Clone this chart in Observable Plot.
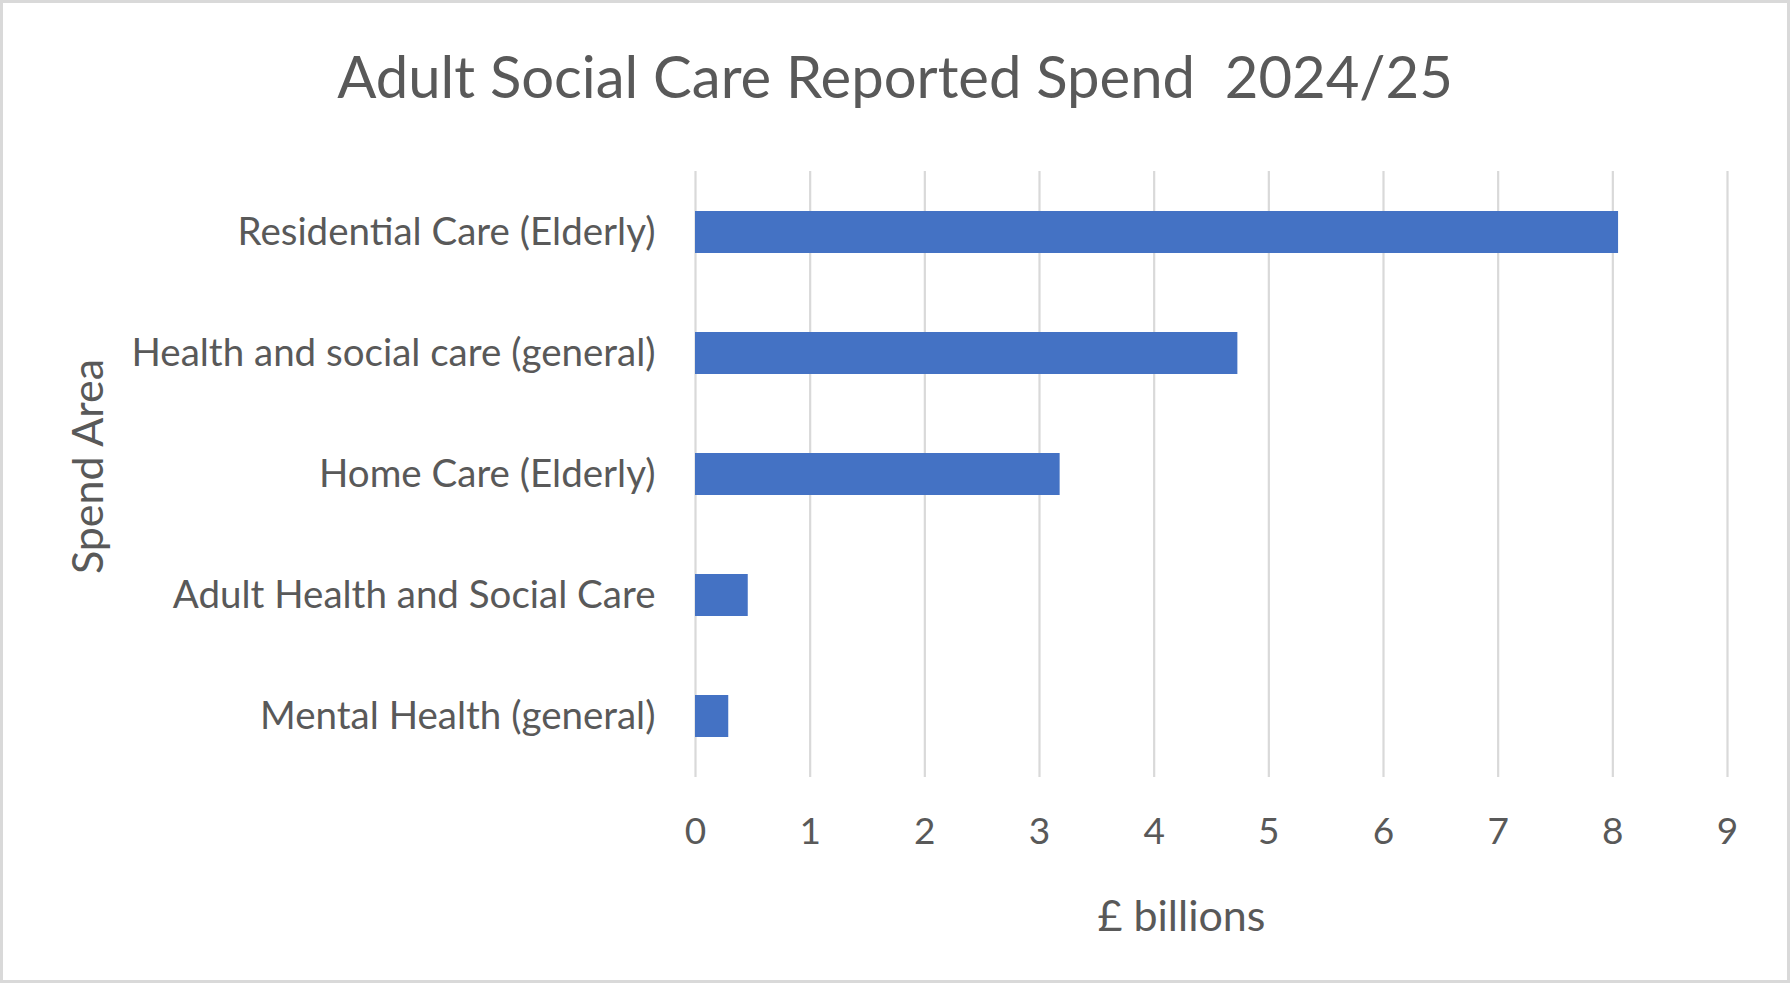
<!DOCTYPE html>
<html>
<head>
<meta charset="utf-8">
<script src="https://cdn.jsdelivr.net/npm/d3@7"></script>
<script src="https://cdn.jsdelivr.net/npm/@observablehq/plot@0.6"></script>
<style>
  html, body { margin: 0; padding: 0; background: #fff; }
  #chart { position: relative; width: 1790px; height: 983px; overflow: hidden; background: #fff; font-family: Lato, "Open Sans", sans-serif; color: #595959; }
  #frame { position: absolute; left: 0; top: 0; width: 1790px; height: 983px; border: 3px solid #d9d9d9; box-sizing: border-box; pointer-events: none; }
  #title { position: absolute; left: 0; top: 41px; width: 1790px; text-align: center; font-size: 58px; line-height: 70px; white-space: pre; }
  #plot { position: absolute; left: 0; top: 130px; }
</style>
</head>
<body>
<div id="chart">
  <div id="title">Adult Social Care Reported Spend  2024/25</div>
  <div id="plot"></div>
  <div id="frame"></div>
</div>
<script>
// Spend areas, top to bottom, and reported spend in £ billions
const areas = [
  "Residential Care (Elderly)",
  "Health and social care (general)",
  "Home Care (Elderly)",
  "Adult Health and Social Care",
  "Mental Health (general)"
];
const spend = [8.05, 4.73, 3.18, 0.46, 0.29];
const xTicks = [0, 1, 2, 3, 4, 5, 6, 7, 8, 9];
const yTitle = "Spend Area";
const xTitle = "£ billions";

const rows = areas.map((area, i) => ({area, spend: spend[i]}));

const chart = Plot.plot({
  width: 1790,
  height: 853,
  marginTop: 41,
  marginBottom: 206,
  marginLeft: 695,
  marginRight: 63,
  style: {fontFamily: "Lato, 'Open Sans', sans-serif", color: "#595959", background: "transparent", overflow: "visible"},
  x: {domain: [0, 9], ticks: xTicks},
  // each category gets an equal slot; the bar fills about a third of it
  y: {domain: areas, paddingInner: 0.65, paddingOuter: 0.325},
  marks: [
    Plot.gridX(xTicks, {stroke: "#d9d9d9", strokeWidth: 2.2, strokeOpacity: 1}),
    Plot.barX(rows, {x: "spend", y: "area", fill: "#4472c4"}),
    Plot.axisX(xTicks, {tickSize: 0, tickPadding: 40, fontSize: 37, tickFormat: d3.format("d"), label: null, fill: "#595959"}),
    Plot.axisY({tickSize: 0, tickPadding: 40, fontSize: 38.5, label: null, fill: "#595959"}),
    Plot.text([yTitle], {frameAnchor: "left", rotate: -90, textAnchor: "middle", lineAnchor: "middle", dx: -606, dy: -8, fontSize: 43, fill: "#595959"}),
    Plot.text([xTitle], {frameAnchor: "bottom", textAnchor: "middle", lineAnchor: "middle", dx: -30, dy: 140, fontSize: 43, fill: "#595959"})
  ]
});

document.getElementById("plot").appendChild(chart);
</script>
</body>
</html>
